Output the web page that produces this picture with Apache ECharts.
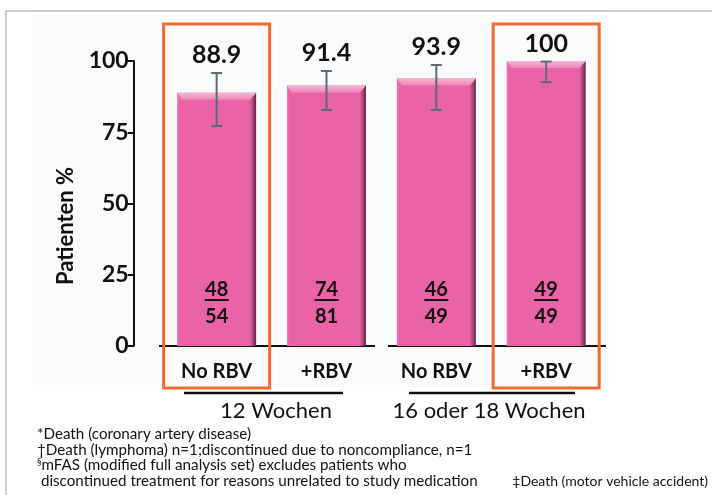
<!DOCTYPE html>
<html>
<head>
<meta charset="utf-8">
<script src="https://cdn.jsdelivr.net/npm/echarts@6/dist/echarts.min.js"></script>
<style>
  html, body { margin: 0; padding: 0; background: #fff; }
  #main { width: 712px; height: 495px; }
</style>
</head>
<body>
<div id="main"></div>
<script>
var categories = ['No RBV', '+RBV', 'No RBV', '+RBV'];
var values = [88.9, 91.4, 93.9, 100];
var ciLow = [77.2, 82.8, 82.8, 92.6];
var ciHigh = [95.8, 96.5, 98.6, 99.8];
var responders = [48, 74, 46, 49];
var totals = [54, 81, 49, 49];
var valueLabels = ['88.9', '91.4', '93.9', '100'];
var groups = ['12 Wochen', '16 oder 18 Wochen'];
var highlighted = [0, 3];
var footnotes = [
    '*Death (coronary artery disease)',
    '\u2020Death (lymphoma) n=1;discontinued due to noncompliance, n=1',
    '{s|\u00a7}mFAS (modified full analysis set) excludes patients who',
    ' discontinued treatment for reasons unrelated to study medication'
];
var footnoteRight = '\u2021Death (motor vehicle accident)';

var FONT = 'Lato, "Liberation Sans", sans-serif';
var PINK = '#e963a6';
var ORANGE = '#f26a2d';

var chart = echarts.init(document.getElementById('main'));

// error bars, value labels on top, and the bevel highlight of each bar
function renderErr(params, api) {
    var i = api.value(0);
    var top = api.coord([i, api.value(1)]);
    var hi = api.coord([i, api.value(2)]);
    var lo = api.coord([i, api.value(3)]);
    var w = api.size([1, 0])[0] * 0.72;
    var x0 = top[0] - w / 2, x1 = top[0] + w / 2;
    var gray = '#5d6b72';
    return {
        type: 'group',
        children: [
            { type: 'polygon', shape: { points: [[x0, top[1]], [x1, top[1]], [x1 - 6, top[1] + 7], [x0 + 5, top[1] + 7]] },
              style: { fill: new echarts.graphic.LinearGradient(0, 0, 0, 1, [
                  { offset: 0, color: '#f7b6d6' }, { offset: 1, color: '#ee86bb' }]) } },
            { type: 'line', shape: { x1: top[0], y1: hi[1], x2: top[0], y2: lo[1] }, style: { stroke: gray, lineWidth: 2 } },
            { type: 'line', shape: { x1: top[0] - 5.5, y1: hi[1], x2: top[0] + 5.5, y2: hi[1] }, style: { stroke: gray, lineWidth: 2 } },
            { type: 'line', shape: { x1: top[0] - 5.5, y1: lo[1], x2: top[0] + 5.5, y2: lo[1] }, style: { stroke: gray, lineWidth: 2 } },
            { type: 'text', x: top[0], y: hi[1] - 18,
              style: { text: valueLabels[i], font: 'bold 25px ' + FONT, fill: '#111', align: 'center', verticalAlign: 'middle' } }
        ]
    };
}

// responders / total inside each bar
function renderFrac(params, api) {
    var i = api.value(0);
    var base = api.coord([i, 0]);
    var num = String(api.value(1));
    var den = String(api.value(2));
    return {
        type: 'group',
        children: [
            { type: 'text', x: base[0], y: base[1] - 56,
              style: { text: num, font: 'bold 20px ' + FONT, fill: '#111', align: 'center', verticalAlign: 'middle' } },
            { type: 'line', shape: { x1: base[0] - 12, y1: base[1] - 46, x2: base[0] + 12, y2: base[1] - 46 },
              style: { stroke: '#111', lineWidth: 2 } },
            { type: 'text', x: base[0], y: base[1] - 29,
              style: { text: den, font: 'bold 20px ' + FONT, fill: '#111', align: 'center', verticalAlign: 'middle' } }
        ]
    };
}

var errData = values.map(function (v, i) { return [i, v, ciHigh[i], ciLow[i]]; });
var fracData = responders.map(function (r, i) { return [i, r, totals[i]]; });

var option = {
    backgroundColor: '#ffffff',
    animation: false,
    grid: { left: 161.7, right: 110.9, top: 61, bottom: 149 },
    xAxis: {
        type: 'category',
        data: categories,
        axisLine: { show: false },
        axisTick: { show: false },
        axisLabel: { interval: 0, margin: 16, color: '#111', fontSize: 20, fontWeight: 'bold', fontFamily: FONT }
    },
    yAxis: {
        type: 'value',
        min: 0,
        max: 100,
        interval: 25,
        offset: 28,
        axisLine: { show: true, lineStyle: { color: '#111', width: 2 } },
        axisTick: { show: true, length: 6, lineStyle: { color: '#111', width: 2 } },
        axisLabel: { margin: 5, color: '#111', fontSize: 23, fontWeight: 'bold', fontFamily: FONT },
        splitLine: { show: false }
    },
    series: [
        {
            type: 'bar',
            data: values,
            barWidth: 79,
            itemStyle: {
                color: new echarts.graphic.LinearGradient(0, 0, 1, 0, [
                    { offset: 0, color: '#ec78b2' },
                    { offset: 0.03, color: PINK },
                    { offset: 0.92, color: PINK },
                    { offset: 0.955, color: '#b54880' },
                    { offset: 1, color: '#5e2645' }
                ]),
                shadowColor: 'rgba(60,20,40,0.35)',
                shadowBlur: 3,
                shadowOffsetX: 2,
                shadowOffsetY: 1
            }
        },
        {
            type: 'custom',
            renderItem: renderErr,
            data: errData,
            z: 5
        },
        {
            type: 'custom',
            renderItem: renderFrac,
            data: fracData,
            z: 6
        }
    ]
};
chart.setOption(option);

// decorations placed around the plot
var graphics = [
    { type: 'rect', z: -10, shape: { x: 33, y: 15, width: 575, height: 370 }, style: { fill: '#fafbfc' } },
    { type: 'rect', z: -9, shape: { x: 6, y: 11, width: 760, height: 520 }, style: { fill: null, stroke: '#bdbdbd', lineWidth: 1.5 } },
    { type: 'line', shape: { x1: 159, y1: 346, x2: 375, y2: 346 }, style: { stroke: '#111', lineWidth: 2 } },
    { type: 'line', shape: { x1: 388, y1: 346, x2: 606, y2: 346 }, style: { stroke: '#111', lineWidth: 2 } },
    { type: 'line', shape: { x1: 184, y1: 393, x2: 343, y2: 393 }, style: { stroke: '#111', lineWidth: 2.5 } },
    { type: 'line', shape: { x1: 409, y1: 393, x2: 575, y2: 393 }, style: { stroke: '#111', lineWidth: 2.5 } },
    { type: 'text', x: 276, y: 411, style: { text: groups[0], font: '22px ' + FONT, fill: '#111', align: 'center', verticalAlign: 'middle' } },
    { type: 'text', x: 489, y: 411, style: { text: groups[1], font: '22px ' + FONT, fill: '#111', align: 'center', verticalAlign: 'middle' } },
    { type: 'text', x: 66, y: 226, rotation: Math.PI / 2,
      style: { text: 'Patienten %', font: 'bold 22px ' + FONT, fill: '#111', align: 'center', verticalAlign: 'middle' } },
    { type: 'text', x: 708, y: 481, style: { text: footnoteRight, font: '14px ' + FONT, fill: '#111', align: 'right', verticalAlign: 'middle' } }
];
footnotes.forEach(function (t, k) {
    graphics.push({ type: 'text', x: 37, y: 434 + k * 15.7,
        style: { text: t, font: '15.2px ' + FONT, fill: '#111', verticalAlign: 'middle',
                 rich: { s: { fontSize: 9, verticalAlign: 'top', fontFamily: FONT, fill: '#111' } } } });
});
highlighted.forEach(function (i) {
    var px = chart.convertToPixel({ seriesIndex: 0 }, [i, 0])[0];
    graphics.push({ type: 'rect', z: 20, shape: { x: px - 53, y: 24, width: 106, height: 364 },
        style: { fill: null, stroke: ORANGE, lineWidth: 3 } });
});
chart.setOption({ graphic: graphics });
</script>
</body>
</html>
